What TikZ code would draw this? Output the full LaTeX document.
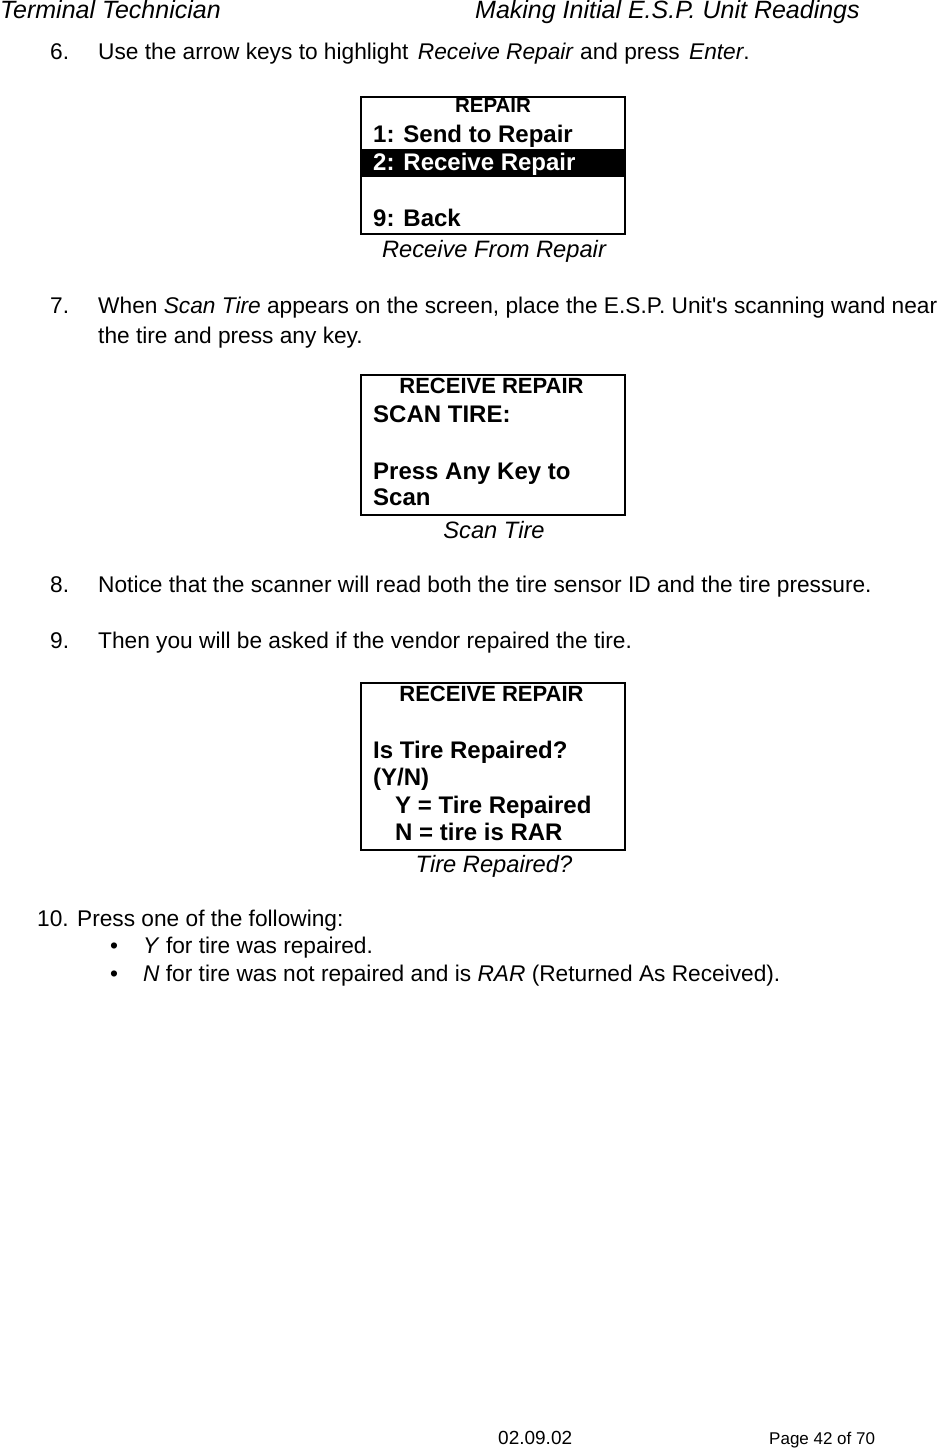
\documentclass[tikz,border=0pt]{standalone}
\usepackage{fontspec}
\setmainfont{Liberation Sans}
\begin{document}
\begin{tikzpicture}[x=1pt,y=-1pt,
  body/.style={anchor=base west,inner sep=0pt,font=\fontsize{22.7}{28}\selectfont},
  head/.style={anchor=base west,inner sep=0pt,font=\fontsize{25}{28}\selectfont\itshape},
  foot/.style={anchor=base west,inner sep=0pt,font=\fontsize{17}{20}\selectfont},
  captxt/.style={anchor=base,inner sep=0pt,font=\fontsize{23.7}{28}\selectfont\itshape},
  scr/.style={anchor=base west,inner sep=0pt,font=\fontsize{24}{28}\selectfont\bfseries},
  scrtitle/.style={anchor=base,inner sep=0pt,font=\fontsize{20.5}{24}\selectfont\bfseries},
  screen/.style={draw=black,line width=1.6pt},
  bar/.style={fill=black,draw=none}]
\fill[white] (0,0) rectangle (948,1450);
\useasboundingbox (0,0) rectangle (948,1450);
% header
\node[head] (h1) at (0,18.5) {Terminal Technician};
\node[head] (h2) at (475,18.5) {Making Initial E.S.P. Unit Readings};
% step 6
\node[body] (n6) at (50,60) {6.};
\node[body] (t6) at (98,60) {Use the arrow keys to highlight\hspace{3pt} \textit{Receive Repair} and press\hspace{3pt} \textit{Enter}.};
% screen 1
\draw[screen] (361,97) rectangle (625,234);
\fill[bar] (361,149) rectangle (625,177);
\node[scrtitle] (s1t) at (493,113) {REPAIR};
\node[scr] (s1a) at (373,142.5) {1: Send to Repair};
\node[scr,text=white] (s1b) at (373,170.5) {2: Receive Repair};
\node[scr] (s1c) at (373,226.5) {9: Back};
\node[captxt] (c1) at (494,257.5) {Receive From Repair};
% step 7
\node[body] (n7) at (50,313) {7.};
\node[body] (t7a) at (98,313) {When \textit{Scan Tire} appears on the screen, place the E.S.P. Unit\textquotesingle s scanning wand near};
\node[body] (t7b) at (98,343) {the tire and press any key.};
% screen 2
\draw[screen] (361,375) rectangle (625,515);
\node[scrtitle,font=\fontsize{22}{24}\selectfont\bfseries] (s2t) at (491.5,393) {RECEIVE REPAIR};
\node[scr] (s2a) at (373,422.5) {SCAN TIRE:};
\node[scr] (s2b) at (373,479.5) {Press Any Key to};
\node[scr] (s2c) at (373,505.5) {Scan};
\node[captxt] (c2) at (494,538.5) {Scan Tire};
% step 8, 9
\node[body] (n8) at (50,592) {8.};
\node[body] (t8) at (98,592) {Notice that the scanner will read both the tire sensor ID and the tire pressure.};
\node[body] (n9) at (50,648) {9.};
\node[body] (t9) at (98,648) {Then you will be asked if the vendor repaired the tire.};
% screen 3
\draw[screen] (361,683) rectangle (625,850);
\node[scrtitle,font=\fontsize{22}{24}\selectfont\bfseries] (s3t) at (491.5,701) {RECEIVE REPAIR};
\node[scr] (s3a) at (373,758.5) {Is Tire Repaired?};
\node[scr] (s3b) at (373,785.5) {(Y/N)};
\node[scr] (s3c) at (395,813.5) {Y = Tire Repaired};
\node[scr] (s3d) at (395,840.5) {N = tire is RAR};
\node[captxt] (c3) at (494,872.5) {Tire Repaired?};
% step 10
\node[body] (n10) at (37,926) {10. Press one of the following:};
\node[body] (b1) at (110,953) {\textbullet};
\node[body] (l1) at (143,953) {\textit{Y} for tire was repaired.};
\node[body] (b2) at (110,981) {\textbullet};
\node[body] (l2) at (143,981) {\textit{N} for tire was not repaired and is \textit{RAR} (Returned As Received).};
% footer
\node[foot,font=\fontsize{19}{22}\selectfont] (f1) at (498,1444.5) {02.09.02};
\node[foot] (f2) at (769,1444) {Page 42 of 70};
\end{tikzpicture}
\end{document}
